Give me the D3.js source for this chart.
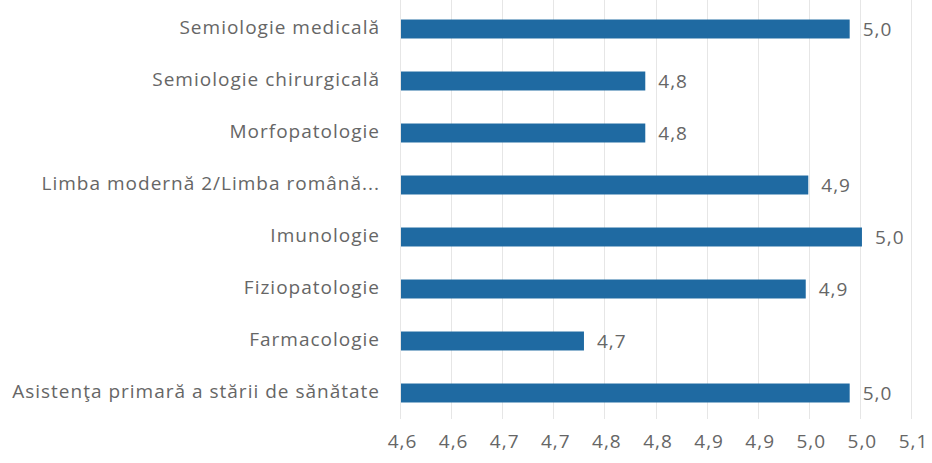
<!DOCTYPE html>
<html><head><meta charset="utf-8">
<script src="https://cdn.jsdelivr.net/npm/d3@7/dist/d3.min.js"></script>
<style>
html,body{margin:0;padding:0;background:#fff;}
svg{display:block;}
text{font-family:"Open Sans",Lato,sans-serif;fill:#666;letter-spacing:1px;}
</style></head><body>
<svg id="c" width="932" height="463"></svg>
<script>
const categories = [
  "Semiologie medicală",
  "Semiologie chirurgicală",
  "Morfopatologie",
  "Limba modernă 2/Limba română...",
  "Imunologie",
  "Fiziopatologie",
  "Farmacologie",
  "Asistenţa primară a stării de sănătate"
];
const values = [4.99, 4.79, 4.79, 4.9495, 5.002, 4.947, 4.73, 4.99];
const tickValues = [4.55, 4.60, 4.65, 4.70, 4.75, 4.80, 4.85, 4.90, 4.95, 5.00, 5.05];
const tickLabels = ["4,6","4,6","4,7","4,7","4,8","4,8","4,9","4,9","5,0","5,0","5,1"];

const svg = d3.select("#c");
const locale = d3.formatLocale({decimal: ",", thousands: ".", grouping: [3], currency: ["", " lei"]});
const fmt = locale.format(".1f");
const FONT = "'Open Sans', Lato, sans-serif";
const FS = 19;

const x = d3.scaleLinear().domain([4.55, 5.05]).range([400, 911]);
const y = d3.scaleBand().domain(categories).range([3, 419]).paddingInner(0.635).paddingOuter(0.3175);

// gridlines
svg.append("g").selectAll("line").data(tickValues).join("line")
  .attr("x1", d => Math.round(x(d)) + 0.5).attr("x2", d => Math.round(x(d)) + 0.5)
  .attr("y1", 0).attr("y2", 419)
  .attr("stroke", "#e6e6e6").attr("stroke-width", 1);

// x axis
const xAxis = d3.axisBottom(x).tickValues(tickValues).tickSize(0).tickPadding(0)
  .tickFormat((d, i) => tickLabels[i]);
const gx = svg.append("g").attr("transform", "translate(2,434)").call(xAxis);
gx.select(".domain").remove();
gx.selectAll("text").attr("font-size", FS).attr("fill", "#666").attr("dy", "0.71em")
  .style("font-family", FONT);

// y axis labels
const yAxis = d3.axisLeft(y).tickSize(0).tickPadding(0);
const gy = svg.append("g").attr("transform", "translate(380,-1)").call(yAxis);
gy.select(".domain").remove();
gy.selectAll("text").attr("font-size", FS).attr("fill", "#666")
  .style("font-family", FONT);

// bars
svg.append("g").selectAll("rect").data(values).join("rect")
  .attr("x", x(4.55) + 1)
  .attr("y", (d, i) => y(categories[i]))
  .attr("width", d => x(d) - x(4.55) - 1)
  .attr("height", y.bandwidth())
  .attr("fill", "#1f6aa2");

// value labels
svg.append("g").selectAll("text").data(values).join("text")
  .attr("x", d => x(d) + 13)
  .attr("y", (d, i) => y(categories[i]) + y.bandwidth() / 2)
  .attr("dy", "0.35em")
  .attr("font-size", FS)
  .text(d => fmt(d));
</script>
</body></html>
